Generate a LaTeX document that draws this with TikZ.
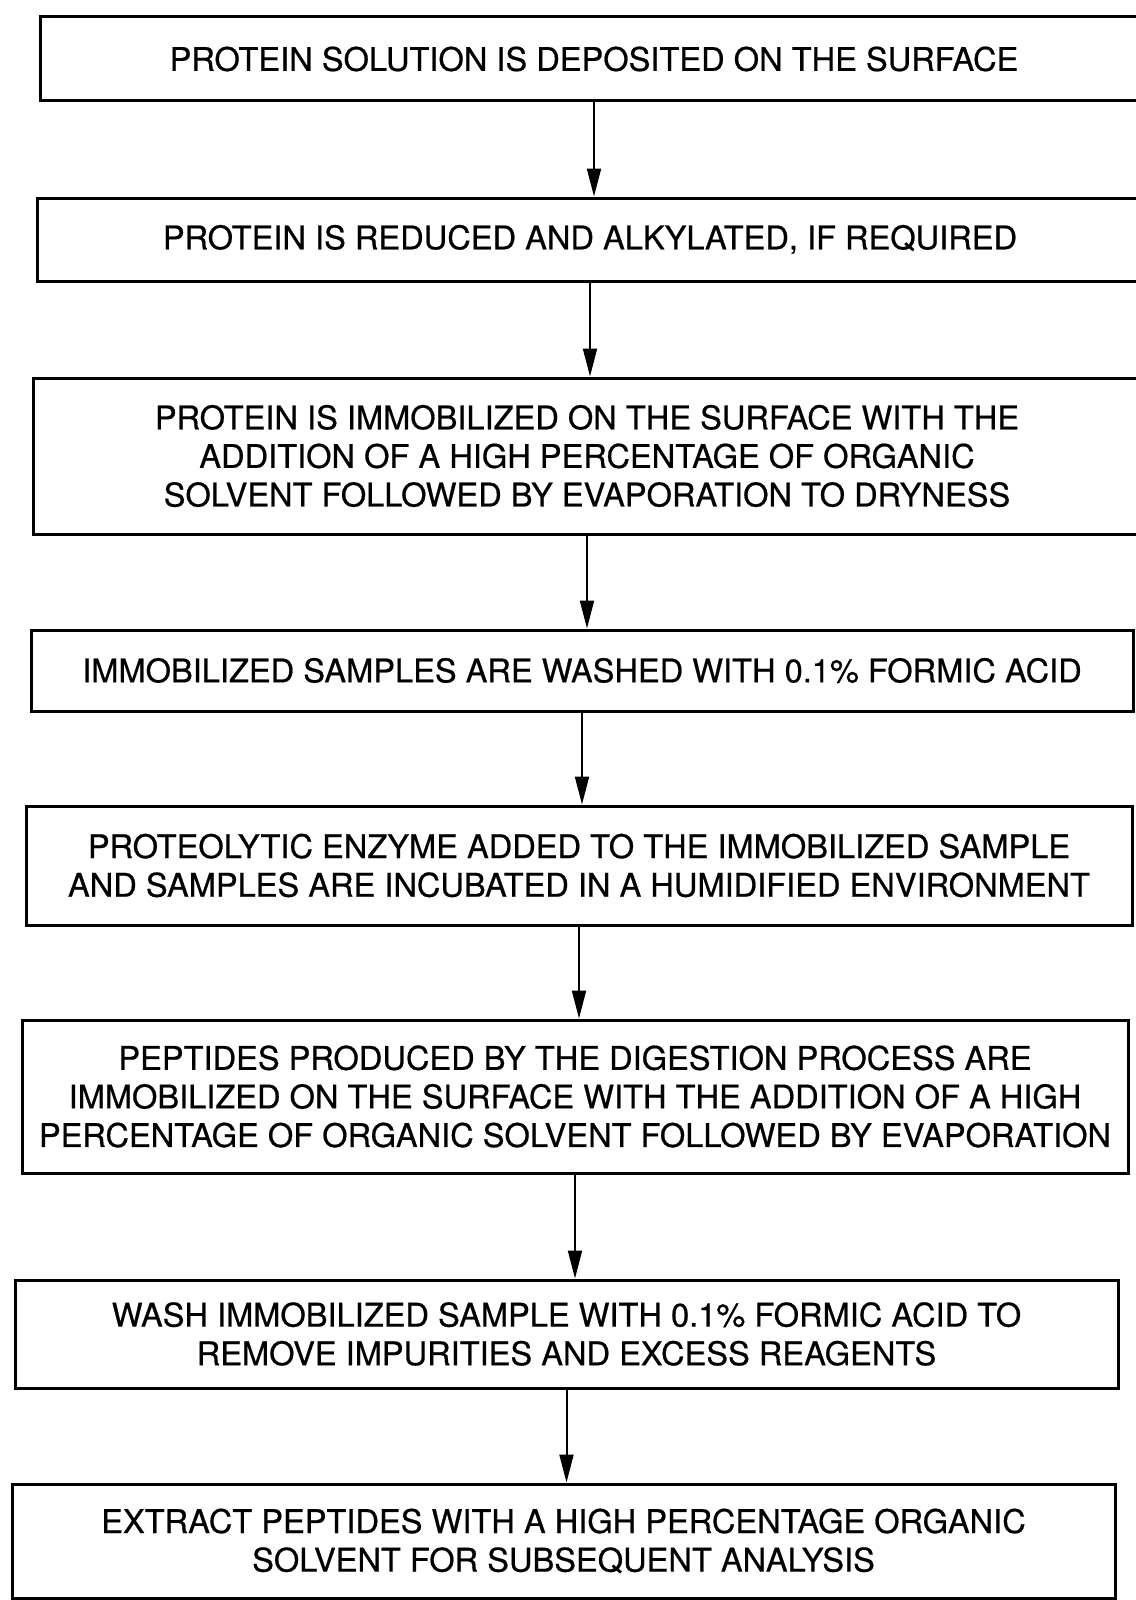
\documentclass[tikz,border=0pt]{standalone}
\usepackage{fontspec}
\setmainfont{TeX Gyre Heros}[FakeBold=0.6]
\usepackage{tikz}
\usetikzlibrary{arrows.meta}
\tikzstyle{stepbox}=[draw,line width=1.5pt,inner sep=0pt,align=center,
  font=\fontsize{16.3}{19.3}\selectfont]
\tikzstyle{flow}=[line width=1pt,-{Triangle[length=14pt,width=7pt]}]

\begin{document}
\begin{tikzpicture}[x=0.5pt,y=-0.5pt]
\useasboundingbox (0,0) rectangle (1135,1600);
\node [stepbox,minimum width=554pt,minimum height=42pt] (deposit) at (594,59)
  {PROTEIN SOLUTION IS DEPOSITED ON THE SURFACE};
\node [stepbox,minimum width=553pt,minimum height=41.5pt] (reduce) at (590,239.5)
  {PROTEIN IS REDUCED AND ALKYLATED, IF REQUIRED};
\node [stepbox,minimum width=554pt,minimum height=78pt] (immob) at (587,456)
  {PROTEIN IS IMMOBILIZED ON THE SURFACE WITH THE\\
   ADDITION OF A HIGH PERCENTAGE OF ORGANIC\\
   SOLVENT FOLLOWED BY EVAPORATION TO DRYNESS};
\node [stepbox,minimum width=551pt,minimum height=40.5pt] (washa) at (582,670.5)
  {IMMOBILIZED SAMPLES ARE WASHED WITH 0.1\% FORMIC ACID};
\node [stepbox,minimum width=553pt,minimum height=59.5pt] (enzyme) at (579,865.5)
  {PROTEOLYTIC ENZYME ADDED TO THE IMMOBILIZED SAMPLE\\
   AND SAMPLES ARE INCUBATED IN A HUMIDIFIED ENVIRONMENT};
\node [stepbox,minimum width=553pt,minimum height=76.5pt] (peptides) at (575,1096.5)
  {PEPTIDES PRODUCED BY THE DIGESTION PROCESS ARE\\
   IMMOBILIZED ON THE SURFACE WITH THE ADDITION OF A HIGH\\
   PERCENTAGE OF ORGANIC SOLVENT FOLLOWED BY EVAPORATION};
\node [stepbox,minimum width=551.5pt,minimum height=54pt] (washb) at (566.5,1334)
  {WASH IMMOBILIZED SAMPLE WITH 0.1\% FORMIC ACID TO\\
   REMOVE IMPURITIES AND EXCESS REAGENTS};
\node [stepbox,minimum width=551.5pt,minimum height=57pt] (extract) at (563.5,1541)
  {EXTRACT PEPTIDES WITH A HIGH PERCENTAGE ORGANIC\\
   SOLVENT FOR SUBSEQUENT ANALYSIS};
% arrows between steps
\foreach \a/\b in {deposit/reduce,reduce/immob,immob/washa,washa/enzyme,
  enzyme/peptides,peptides/washb,washb/extract}
  \draw [flow] (\a.south) -- (\a.south |- \b.north);
\end{tikzpicture}
\end{document}
